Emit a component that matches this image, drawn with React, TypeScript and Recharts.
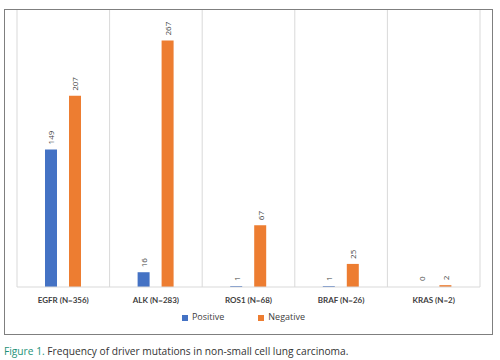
import React from "react";
import { BarChart, Bar, XAxis, YAxis, CartesianGrid, Legend, LabelList, Rectangle } from "recharts";

const genes = ["EGFR (N=356)", "ALK (N=283)", "ROS1 (N=68)", "BRAF (N=26)", "KRAS (N=2)"];
const positive = [149, 16, 1, 1, 0];
const negative = [207, 267, 67, 25, 2];

const data = genes.map((g, i) => ({ name: g, Positive: positive[i], Negative: negative[i] }));

const BLUE = "#4472C4";
const ORANGE = "#ED7D31";

// rotated value label sitting just above the bar
const renderLabel = (props: any) => {
  const { x, y, width, value } = props;
  const cx = Number(x) + Number(width) / 2;
  const cy = Number(y) - 5;
  return (
    <text
      x={cx}
      y={cy}
      transform={`rotate(-90, ${cx}, ${cy})`}
      textAnchor="start"
      dominantBaseline="central"
      fontSize={8}
      fontFamily="Open Sans, sans-serif"
      fill="#404040"
    >
      {value}
    </text>
  );
};

// zero values get a minimum size so the label shows, but draw nothing for them
const posShape = (props: any) => (props.value === 0 || props.payload?.Positive === 0 ? <g /> : <Rectangle {...props} />);

export default function App() {
  return (
    <div style={{ position: "absolute", left: 0, top: 0, width: 500, height: 360, background: "#fff" }}>
      <div
        style={{
          position: "absolute",
          left: 4,
          top: 9,
          width: 489,
          height: 326,
          border: "1px solid #7f7f7f",
          boxSizing: "border-box",
        }}
      >
        <BarChart
          width={487}
          height={324}
          data={data}
          margin={{ top: 0, right: 12, left: 12, bottom: 4 }}
          barSize={12}
          barGap={12}
        >
          <CartesianGrid
            horizontal={false}
            stroke="#d9d9d9"
            verticalCoordinatesGenerator={({ offset }: any) =>
              genes.map((_, i) => offset.left + (i * offset.width) / genes.length).concat(offset.left + offset.width)
            }
          />
          <XAxis
            dataKey="name"
            axisLine={{ stroke: "#d9d9d9" }}
            tickLine={false}
            tickMargin={4}
            height={23}
            interval={0}
            tick={{ fontSize: 8, fontWeight: "bold", fill: "#404040", fontFamily: "Lato, sans-serif" }}
          />
          <YAxis hide domain={[0, 300]} />
          <Legend
            verticalAlign="bottom"
            height={20}
            iconType="square"
            iconSize={6}
            itemSorter={(item: any) => (item.dataKey === "Positive" ? 0 : 1)}
            wrapperStyle={{ fontSize: 9, fontFamily: "Open Sans, sans-serif", color: "#404040" }}
            formatter={(v: any) => (
              <span style={{ color: "#404040", marginRight: v === "Positive" ? 24 : 0 }}>{v}</span>
            )}
          />
          <Bar dataKey="Positive" fill={BLUE} minPointSize={1} shape={posShape} isAnimationActive={false}>
            <LabelList dataKey="Positive" content={renderLabel} />
          </Bar>
          <Bar dataKey="Negative" fill={ORANGE} isAnimationActive={false}>
            <LabelList dataKey="Negative" content={renderLabel} />
          </Bar>
        </BarChart>
      </div>
      <div
        style={{
          position: "absolute",
          left: 4,
          top: 344,
          fontFamily: "Open Sans, sans-serif",
          fontSize: 10.2,
          lineHeight: "14px",
          color: "#333",
          whiteSpace: "nowrap",
        }}
      >
        <span style={{ color: "#1e9178" }}>Figure 1.</span> Frequency of driver mutations in non-small cell lung carcinoma.
      </div>
    </div>
  );
}
